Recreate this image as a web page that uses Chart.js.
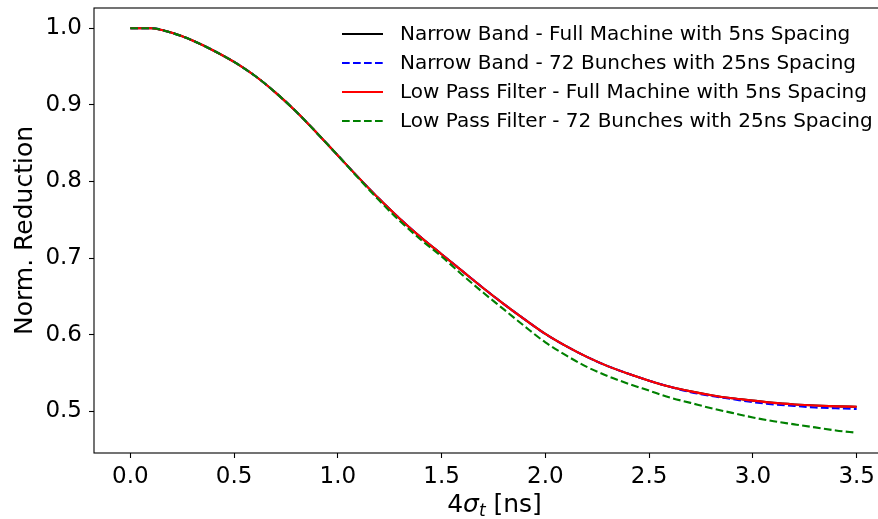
<!DOCTYPE html>
<html>
<head>
<meta charset="utf-8">
<script src="https://cdn.jsdelivr.net/npm/chart.js@4.4.1/dist/chart.umd.min.js"></script>
<style>
  html, body { margin: 0; padding: 0; background: #fff; overflow: hidden; }
  #wrap { position: absolute; left: 0; top: 0; width: 900px; height: 519px; }
</style>
</head>
<body>
<div id="wrap"><canvas id="report" width="900" height="519"></canvas></div>
<script>
// bunch length 4*sigma_t in ns
const xValues = [0.0, 0.1, 0.2, 0.3, 0.4, 0.5, 0.6, 0.7, 0.8, 0.9, 1.0, 1.1, 1.2,
                 1.3, 1.4, 1.5, 1.6, 1.7, 1.8, 1.9, 2.0, 2.1, 2.2, 2.3, 2.4, 2.5,
                 2.6, 2.7, 2.8, 2.9, 3.0, 3.1, 3.2, 3.3, 3.4, 3.5];

const narrowFull = [1.000, 1.000, 0.994, 0.984, 0.971, 0.956, 0.938, 0.916, 0.891, 0.863,
                    0.834, 0.805, 0.777, 0.751, 0.727, 0.705, 0.683, 0.661, 0.640, 0.620,
                    0.601, 0.585, 0.571, 0.559, 0.549, 0.540, 0.532, 0.526, 0.521, 0.517,
                    0.514, 0.511, 0.509, 0.5075, 0.5065, 0.506];
const narrow72 = [1.000, 1.000, 0.994, 0.984, 0.971, 0.956, 0.938, 0.916, 0.891, 0.863,
                  0.834, 0.805, 0.777, 0.751, 0.727, 0.705, 0.683, 0.661, 0.640, 0.620,
                  0.601, 0.585, 0.571, 0.559, 0.549, 0.540, 0.532, 0.525, 0.520, 0.516,
                  0.512, 0.509, 0.507, 0.505, 0.504, 0.503];
const lowPassFull = [1.000, 1.000, 0.994, 0.984, 0.971, 0.956, 0.938, 0.916, 0.891, 0.863,
                     0.834, 0.805, 0.777, 0.751, 0.727, 0.705, 0.683, 0.661, 0.640, 0.620,
                     0.601, 0.585, 0.571, 0.559, 0.549, 0.540, 0.532, 0.526, 0.521, 0.517,
                     0.514, 0.511, 0.509, 0.5075, 0.5065, 0.506];
const lowPass72 = [1.000, 1.000, 0.994, 0.984, 0.971, 0.956, 0.938, 0.916, 0.891, 0.863,
                   0.834, 0.804, 0.775, 0.748, 0.724, 0.702, 0.678, 0.655, 0.633, 0.611,
                   0.590, 0.573, 0.558, 0.546, 0.536, 0.527, 0.518, 0.511, 0.504, 0.498,
                   0.492, 0.487, 0.483, 0.479, 0.475, 0.472];

const seriesLabels = ['Narrow Band - Full Machine with 5ns Spacing',
                      'Narrow Band - 72 Bunches with 25ns Spacing',
                      'Low Pass Filter - Full Machine with 5ns Spacing',
                      'Low Pass Filter - 72 Bunches with 25ns Spacing'];

const xTicks = [0.0, 0.5, 1.0, 1.5, 2.0, 2.5, 3.0, 3.5];
const yTicks = [0.5, 0.6, 0.7, 0.8, 0.9, 1.0];

const FONT = 'DejaVu Sans';
const DASH = [7.7, 3.3];

function pts(ys) {
    return xValues.map((x, i) => ({ x: x, y: ys[i] }));
}

// axes frame (top/right spines included), in-plot legend and x title
const framePlugin = {
    id: 'frame',
    afterDraw(chart) {
        const ctx = chart.ctx;
        const a = chart.chartArea;
        ctx.save();
        ctx.strokeStyle = '#000';
        ctx.lineWidth = 1.1;
        ctx.strokeRect(a.left, a.top, a.right - a.left, a.bottom - a.top);

        // legend
        ctx.font = '20px "' + FONT + '"';
        ctx.textBaseline = 'middle';
        ctx.fillStyle = '#000';
        chart.data.datasets.forEach((ds, i) => {
            const y = 34 + i * 29;
            ctx.beginPath();
            ctx.strokeStyle = ds.borderColor;
            ctx.lineWidth = ds.borderWidth;
            ctx.setLineDash(ds.borderDash || []);
            ctx.moveTo(342, y);
            ctx.lineTo(383, y);
            ctx.stroke();
            ctx.setLineDash([]);
            ctx.fillText(seriesLabels[i], 400, y + 1);
        });

        // x axis title: 4 sigma_t [ns]
        const cx = (a.left + a.right) / 2 + 1;
        const by = 512;
        ctx.textBaseline = 'alphabetic';
        const parts = [
            { t: '4', f: '25px "' + FONT + '"', dy: 0 },
            { t: 'σ', f: 'italic 25px "' + FONT + '"', dy: 0 },
            { t: 't', f: 'italic 17px "' + FONT + '"', dy: 4 },
            { t: ' [ns]', f: '25px "' + FONT + '"', dy: 0 }
        ];
        let total = 0;
        parts.forEach(p => { ctx.font = p.f; p.w = ctx.measureText(p.t).width; total += p.w; });
        let x = cx - total / 2;
        ctx.textAlign = 'left';
        parts.forEach(p => { ctx.font = p.f; ctx.fillText(p.t, x, by + p.dy); x += p.w; });
        ctx.restore();
    }
};

const ctx = document.getElementById('report').getContext('2d');

new Chart(ctx, {
    type: 'line',
    data: {
        datasets: [{
            label: seriesLabels[0],
            data: pts(narrowFull),
            borderColor: '#000000',
            borderWidth: 2.1,
            order: 4
        }, {
            label: seriesLabels[1],
            data: pts(narrow72),
            borderColor: '#0000ff',
            borderWidth: 2.1,
            borderDash: DASH,
            order: 3
        }, {
            label: seriesLabels[2],
            data: pts(lowPassFull),
            borderColor: '#ff0000',
            borderWidth: 2.1,
            order: 2
        }, {
            label: seriesLabels[3],
            data: pts(lowPass72),
            borderColor: '#008000',
            borderWidth: 2.1,
            borderDash: DASH,
            order: 1
        }]
    },
    options: {
        responsive: false,
        animation: false,
        elements: {
            point: { radius: 0 },
            line: { tension: 0, cubicInterpolationMode: 'monotone', fill: false, borderCapStyle: 'butt' }
        },
        layout: { padding: { top: 8, right: 7, left: 0, bottom: 0 } },
        plugins: {
            legend: { display: false },
            tooltip: { enabled: false }
        },
        scales: {
            x: {
                type: 'linear',
                min: -0.175,
                max: 3.675,
                afterBuildTicks: (s) => { s.ticks = xTicks.map(v => ({ value: v })); },
                afterFit: (s) => { s.height = 66; },
                grid: { drawOnChartArea: false, drawTicks: true, tickLength: 5, tickColor: '#000', tickWidth: 1.1 },
                border: { display: false },
                ticks: {
                    color: '#000',
                    padding: 5,
                    maxRotation: 0,
                    font: { family: FONT, size: 23 },
                    callback: (v) => Number(v).toFixed(1)
                }
            },
            y: {
                type: 'linear',
                min: 0.4456,
                max: 1.0264,
                afterBuildTicks: (s) => { s.ticks = yTicks.map(v => ({ value: v })); },
                afterFit: (s) => { s.width = 94; s.paddingTop = 0; s.paddingBottom = 0; },
                grid: { drawOnChartArea: false, drawTicks: true, tickLength: 5, tickColor: '#000', tickWidth: 1.1 },
                border: { display: false },
                ticks: {
                    color: '#000',
                    padding: 7,
                    font: { family: FONT, size: 23, lineHeight: 0.1 },
                    callback: (v) => Number(v).toFixed(1)
                },
                title: {
                    display: true,
                    text: 'Norm. Reduction',
                    color: '#000',
                    font: { family: FONT, size: 25 },
                    padding: { top: 10, bottom: 0 }
                }
            }
        }
    },
    plugins: [framePlugin]
});
</script>
</body>
</html>
